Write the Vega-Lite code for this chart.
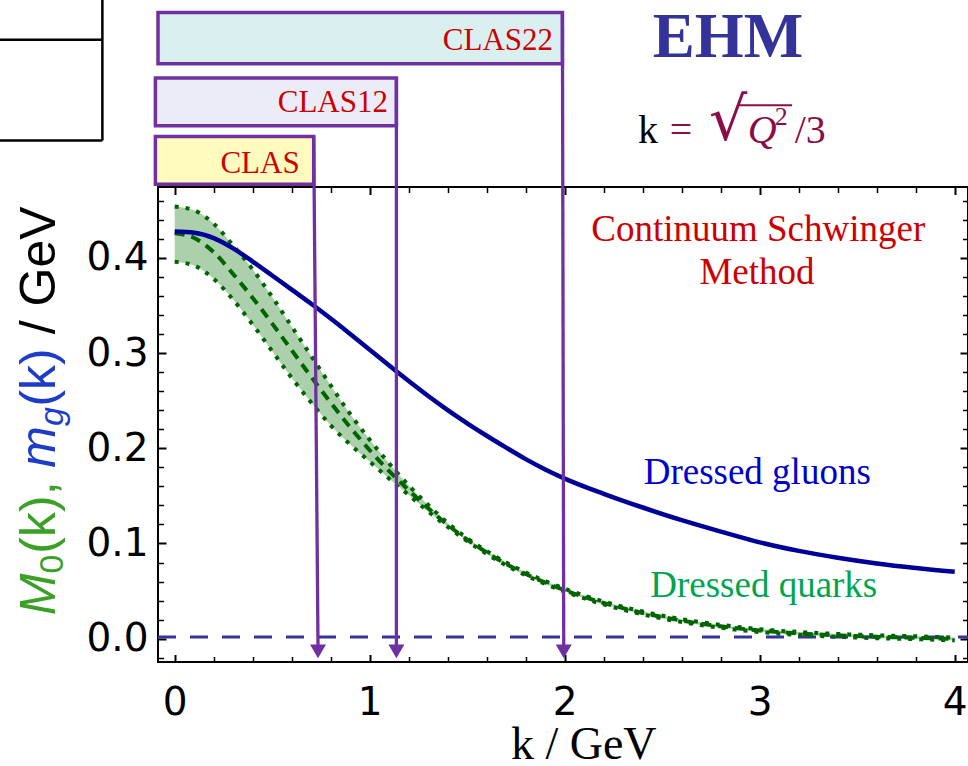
{
  "$schema": "https://vega.github.io/schema/vega-lite/v6.json",
  "width": 810,
  "height": 475,
  "autosize": {"type": "none"},
  "padding": {"left": 158, "top": 187, "right": 0, "bottom": 104},
  "background": "white",
  "config": {"view": {"stroke": "#000000", "strokeWidth": 2}},
  "data": {"values": [{}]},
  "datasets": {
    "gluon": [
      {"k": 0.0, "m": 0.4277}, {"k": 0.1, "m": 0.4264}, {"k": 0.2, "m": 0.4208}, {"k": 0.3, "m": 0.41},
      {"k": 0.4, "m": 0.3962}, {"k": 0.5, "m": 0.3815}, {"k": 0.6, "m": 0.3667}, {"k": 0.7, "m": 0.3518},
      {"k": 0.8, "m": 0.3363}, {"k": 0.9, "m": 0.3201}, {"k": 1.0, "m": 0.3036}, {"k": 1.1, "m": 0.2869},
      {"k": 1.2, "m": 0.2706}, {"k": 1.3, "m": 0.2549}, {"k": 1.4, "m": 0.2401}, {"k": 1.5, "m": 0.2263},
      {"k": 1.6, "m": 0.2132}, {"k": 1.7, "m": 0.2007}, {"k": 1.8, "m": 0.1886}, {"k": 1.9, "m": 0.1778},
      {"k": 2.0, "m": 0.1682}, {"k": 2.2, "m": 0.1522}, {"k": 2.4, "m": 0.1378}, {"k": 2.6, "m": 0.1245},
      {"k": 2.8, "m": 0.1125}, {"k": 3.0, "m": 0.1012}, {"k": 3.2, "m": 0.0922}, {"k": 3.4, "m": 0.085},
      {"k": 3.6, "m": 0.079}, {"k": 3.8, "m": 0.0742}, {"k": 4.0, "m": 0.0702}
    ],
    "quark": [
      {"k": 0.0, "lo": 0.396, "mid": 0.426, "hi": 0.454},
      {"k": 0.1, "lo": 0.392, "mid": 0.421, "hi": 0.45},
      {"k": 0.2, "lo": 0.378, "mid": 0.406, "hi": 0.436},
      {"k": 0.3, "lo": 0.356, "mid": 0.383, "hi": 0.413},
      {"k": 0.4, "lo": 0.33, "mid": 0.358, "hi": 0.388},
      {"k": 0.5, "lo": 0.302, "mid": 0.331, "hi": 0.359},
      {"k": 0.6, "lo": 0.274, "mid": 0.303, "hi": 0.328},
      {"k": 0.7, "lo": 0.248, "mid": 0.275, "hi": 0.297},
      {"k": 0.8, "lo": 0.224, "mid": 0.248, "hi": 0.266},
      {"k": 0.9, "lo": 0.204, "mid": 0.222, "hi": 0.236},
      {"k": 1.0, "lo": 0.186, "mid": 0.198, "hi": 0.209},
      {"k": 1.1, "lo": 0.168, "mid": 0.176, "hi": 0.184},
      {"k": 1.2, "lo": 0.151, "mid": 0.156, "hi": 0.161},
      {"k": 1.3, "lo": 0.1335, "mid": 0.137, "hi": 0.1405},
      {"k": 1.4, "lo": 0.1175, "mid": 0.1195, "hi": 0.1215},
      {"k": 1.5, "lo": 0.1025, "mid": 0.104, "hi": 0.1055},
      {"k": 1.6, "lo": 0.089, "mid": 0.0905, "hi": 0.092},
      {"k": 1.7, "lo": 0.077, "mid": 0.0785, "hi": 0.08},
      {"k": 1.8, "lo": 0.0665, "mid": 0.068, "hi": 0.0695},
      {"k": 1.9, "lo": 0.0575, "mid": 0.059, "hi": 0.0605},
      {"k": 2.0, "lo": 0.0495, "mid": 0.051, "hi": 0.0525},
      {"k": 2.2, "lo": 0.036, "mid": 0.0375, "hi": 0.039},
      {"k": 2.4, "lo": 0.0255, "mid": 0.027, "hi": 0.0285},
      {"k": 2.6, "lo": 0.0175, "mid": 0.019, "hi": 0.0205},
      {"k": 2.8, "lo": 0.0115, "mid": 0.013, "hi": 0.0145},
      {"k": 3.0, "lo": 0.007, "mid": 0.0085, "hi": 0.01},
      {"k": 3.2, "lo": 0.004, "mid": 0.0055, "hi": 0.007},
      {"k": 3.4, "lo": 0.002, "mid": 0.0035, "hi": 0.005},
      {"k": 3.6, "lo": 0.0005, "mid": 0.002, "hi": 0.0035},
      {"k": 3.8, "lo": -0.0005, "mid": 0.001, "hi": 0.0025},
      {"k": 4.0, "lo": -0.0018, "mid": -0.0003, "hi": 0.0012}
    ]
  },
  "resolve": {"axis": {"x": "independent", "y": "independent"}},
  "layer": [
    {
      "data": {"name": "quark"},
      "mark": {"type": "area", "color": "#acd0ac", "interpolate": "monotone"},
      "encoding": {
        "x": {"field": "k", "type": "quantitative", "scale": {"domain": [-0.0856, 4.068], "nice": false, "zero": false},
          "axis": {"orient": "bottom", "values": [0, 1, 2, 3, 4], "format": "d", "ticks": false, "domain": false, "grid": false, "title": null,
            "labelFont": "DejaVu Sans", "labelFontSize": 39, "labelColor": "#000000", "labelPadding": 21, "labelFlush": false, "labelOverlap": false, "labelBound": false}},
        "y": {"field": "lo", "type": "quantitative", "scale": {"domain": [-0.0245, 0.4745], "nice": false, "zero": false},
          "axis": {"orient": "left", "values": [0, 0.1, 0.2, 0.3, 0.4], "format": ".1f", "ticks": false, "domain": false, "grid": false, "title": null,
            "labelFont": "DejaVu Sans", "labelFontSize": 39, "labelColor": "#000000", "labelPadding": 10, "labelFlush": false, "labelOverlap": false, "labelBound": false}},
        "y2": {"field": "hi"}
      }
    },
    {
      "mark": {"type": "rule", "color": "#333399", "strokeWidth": 3, "strokeDash": [18, 14]},
      "encoding": {"x": {"datum": -0.0856, "axis": null}, "x2": {"datum": 4.068}, "y": {"datum": 0.0018, "axis": null}}
    },
    {
      "data": {"name": "quark"},
      "mark": {"type": "line", "color": "#006400", "strokeWidth": 4, "strokeDash": [4, 7], "interpolate": "monotone"},
      "encoding": {
        "x": {"field": "k", "type": "quantitative", "scale": {"domain": [-0.0856, 4.068], "nice": false, "zero": false},
          "axis": {"orient": "bottom", "values": [0, 1, 2, 3, 4], "labels": false, "tickSize": -7.5, "tickWidth": 2, "tickColor": "#000000", "domain": false, "grid": false, "title": null}},
        "y": {"field": "lo", "type": "quantitative", "scale": {"domain": [-0.0245, 0.4745], "nice": false, "zero": false},
          "axis": {"orient": "left", "values": [0, 0.1, 0.2, 0.3, 0.4], "labels": false, "tickSize": -8, "tickWidth": 2, "tickColor": "#000000", "domain": false, "grid": false, "title": null}}
      }
    },
    {
      "data": {"name": "quark"},
      "mark": {"type": "line", "color": "#006400", "strokeWidth": 4, "strokeDash": [4, 7], "interpolate": "monotone"},
      "encoding": {
        "x": {"field": "k", "type": "quantitative", "scale": {"domain": [-0.0856, 4.068], "nice": false, "zero": false},
          "axis": {"orient": "bottom", "values": [0.2, 0.4, 0.6, 0.8, 1.2, 1.4, 1.6, 1.8, 2.2, 2.4, 2.6, 2.8, 3.2, 3.4, 3.6, 3.8], "labels": false, "tickSize": -5.5, "tickWidth": 1.5, "tickColor": "#000000", "domain": false, "grid": false, "title": null}},
        "y": {"field": "hi", "type": "quantitative", "scale": {"domain": [-0.0245, 0.4745], "nice": false, "zero": false},
          "axis": {"orient": "left", "values": [-0.02, 0.02, 0.04, 0.06, 0.08, 0.12, 0.14, 0.16, 0.18, 0.22, 0.24, 0.26, 0.28, 0.32, 0.34, 0.36, 0.38, 0.42, 0.44, 0.46], "labels": false, "tickSize": -5.5, "tickWidth": 1.5, "tickColor": "#000000", "domain": false, "grid": false, "title": null}}
      }
    },
    {
      "data": {"name": "quark"},
      "mark": {"type": "line", "color": "#006400", "strokeWidth": 4, "strokeDash": [10, 7], "interpolate": "monotone"},
      "encoding": {
        "x": {"field": "k", "type": "quantitative", "scale": {"domain": [-0.0856, 4.068], "nice": false, "zero": false},
          "axis": {"orient": "top", "values": [0, 1, 2, 3, 4], "labels": false, "tickSize": -7.5, "tickWidth": 2, "tickColor": "#000000", "domain": false, "grid": false, "title": null}},
        "y": {"field": "mid", "type": "quantitative", "scale": {"domain": [-0.0245, 0.4745], "nice": false, "zero": false},
          "axis": {"orient": "right", "values": [0, 0.1, 0.2, 0.3, 0.4], "labels": false, "tickSize": -8, "tickWidth": 2, "tickColor": "#000000", "domain": false, "grid": false, "title": null}}
      }
    },
    {
      "data": {"name": "gluon"},
      "mark": {"type": "line", "color": "#000099", "strokeWidth": 4.5, "interpolate": "monotone"},
      "encoding": {
        "x": {"field": "k", "type": "quantitative", "scale": {"domain": [-0.0856, 4.068], "nice": false, "zero": false},
          "axis": {"orient": "top", "values": [0.2, 0.4, 0.6, 0.8, 1.2, 1.4, 1.6, 1.8, 2.2, 2.4, 2.6, 2.8, 3.2, 3.4, 3.6, 3.8], "labels": false, "tickSize": -5.5, "tickWidth": 1.5, "tickColor": "#000000", "domain": false, "grid": false, "title": null}},
        "y": {"field": "m", "type": "quantitative", "scale": {"domain": [-0.0245, 0.4745], "nice": false, "zero": false},
          "axis": {"orient": "right", "values": [-0.02, 0.02, 0.04, 0.06, 0.08, 0.12, 0.14, 0.16, 0.18, 0.22, 0.24, 0.26, 0.28, 0.32, 0.34, 0.36, 0.38, 0.42, 0.44, 0.46], "labels": false, "tickSize": -5.5, "tickWidth": 1.5, "tickColor": "#000000", "domain": false, "grid": false, "title": null}}
      }
    },
    {
      "mark": {"type": "rect", "fill": "#daeff0", "stroke": "#7030a0", "strokeWidth": 3.5},
      "encoding": {"x": {"datum": -0.0856, "axis": null}, "x2": {"datum": 1.9882}, "y": {"datum": 0.6579, "axis": null}, "y2": {"datum": 0.604}}
    },
    {
      "mark": {"type": "rect", "fill": "#ececf8", "stroke": "#7030a0", "strokeWidth": 3.5},
      "encoding": {"x": {"datum": -0.099, "axis": null}, "x2": {"datum": 1.1369}, "y": {"datum": 0.589, "axis": null}, "y2": {"datum": 0.5388}}
    },
    {
      "mark": {"type": "rect", "fill": "#fffbbf", "stroke": "#7030a0", "strokeWidth": 3.5},
      "encoding": {"x": {"datum": -0.099, "axis": null}, "x2": {"datum": 0.7128}, "y": {"datum": 0.5275, "axis": null}, "y2": {"datum": 0.4775}}
    },
    {
      "mark": {"type": "rule", "color": "#7030a0", "strokeWidth": 3.3},
      "encoding": {"x": {"datum": 0.7128, "axis": null}, "x2": {"datum": 0.7349}, "y": {"datum": 0.5275, "axis": null}, "y2": {"datum": -0.0069}}
    },
    {
      "mark": {"type": "rule", "color": "#7030a0", "strokeWidth": 3.3},
      "encoding": {"x": {"datum": 1.1369, "axis": null}, "x2": {"datum": 1.1369}, "y": {"datum": 0.589, "axis": null}, "y2": {"datum": -0.0069}}
    },
    {
      "mark": {"type": "rule", "color": "#7030a0", "strokeWidth": 3.3},
      "encoding": {"x": {"datum": 1.9882, "axis": null}, "x2": {"datum": 1.9949}, "y": {"datum": 0.6579, "axis": null}, "y2": {"datum": -0.0069}}
    },
    {
      "mark": {"type": "point", "shape": "triangle-down", "filled": true, "color": "#7030a0", "opacity": 1, "size": 256},
      "encoding": {"x": {"datum": 0.7349, "axis": null}, "y": {"datum": -0.0133, "axis": null}}
    },
    {
      "mark": {"type": "point", "shape": "triangle-down", "filled": true, "color": "#7030a0", "opacity": 1, "size": 256},
      "encoding": {"x": {"datum": 1.1369, "axis": null}, "y": {"datum": -0.0133, "axis": null}}
    },
    {
      "mark": {"type": "point", "shape": "triangle-down", "filled": true, "color": "#7030a0", "opacity": 1, "size": 256},
      "encoding": {"x": {"datum": 1.9949, "axis": null}, "y": {"datum": -0.0133, "axis": null}}
    },
    {
      "mark": {"type": "text", "text": "CLAS", "font": "Liberation Serif", "fontSize": 31, "color": "#cc0000", "align": "right", "baseline": "alphabetic"},
      "encoding": {"x": {"datum": 0.641, "axis": null}, "y": {"datum": 0.4891, "axis": null}}
    },
    {
      "mark": {"type": "text", "text": "CLAS12", "font": "Liberation Serif", "fontSize": 31, "color": "#cc0000", "align": "right", "baseline": "alphabetic"},
      "encoding": {"x": {"datum": 1.0938, "axis": null}, "y": {"datum": 0.5538, "axis": null}}
    },
    {
      "mark": {"type": "text", "text": "CLAS22", "font": "Liberation Serif", "fontSize": 31, "color": "#cc0000", "align": "right", "baseline": "alphabetic"},
      "encoding": {"x": {"datum": 1.94, "axis": null}, "y": {"datum": 0.6187, "axis": null}}
    },
    {
      "mark": {"type": "text", "text": "EHM", "font": "Liberation Serif", "fontSize": 63, "fontWeight": "bold", "color": "#333399", "align": "center", "baseline": "alphabetic"},
      "encoding": {"x": {"datum": 2.8374, "axis": null}, "y": {"datum": 0.611, "axis": null}}
    },
    {
      "mark": {"type": "text", "text": "k", "font": "Liberation Serif", "fontSize": 40, "color": "#000000", "align": "left", "baseline": "alphabetic"},
      "encoding": {"x": {"datum": 2.3759, "axis": null}, "y": {"datum": 0.5212, "axis": null}}
    },
    {
      "mark": {"type": "text", "text": "=", "font": "Liberation Serif", "fontSize": 40, "color": "#8a0f48", "align": "left", "baseline": "alphabetic"},
      "encoding": {"x": {"datum": 2.5385, "axis": null}, "y": {"datum": 0.5212, "axis": null}}
    },
    {
      "mark": {"type": "text", "text": "√", "font": "DejaVu Serif", "fontSize": 60, "color": "#8a0f48", "align": "left", "baseline": "alphabetic"},
      "encoding": {"x": {"datum": 2.74, "axis": null}, "y": {"datum": 0.5239, "axis": null}}
    },
    {
      "mark": {"type": "rule", "color": "#8a0f48", "strokeWidth": 2},
      "encoding": {"x": {"datum": 2.89, "axis": null}, "x2": {"datum": 3.1656}, "y": {"datum": 0.5605, "axis": null}}
    },
    {
      "mark": {"type": "text", "text": "Q", "font": "Liberation Serif", "fontSize": 40, "fontStyle": "italic", "color": "#8a0f48", "align": "left", "baseline": "alphabetic"},
      "encoding": {"x": {"datum": 2.9385, "axis": null}, "y": {"datum": 0.5212, "axis": null}}
    },
    {
      "mark": {"type": "text", "text": "2", "font": "Liberation Serif", "fontSize": 26, "color": "#8a0f48", "align": "left", "baseline": "alphabetic"},
      "encoding": {"x": {"datum": 3.0769, "axis": null}, "y": {"datum": 0.5399, "axis": null}}
    },
    {
      "mark": {"type": "text", "text": "/3", "font": "Liberation Serif", "fontSize": 40, "color": "#8a0f48", "align": "left", "baseline": "alphabetic"},
      "encoding": {"x": {"datum": 3.1795, "axis": null}, "y": {"datum": 0.5212, "axis": null}}
    },
    {
      "mark": {"type": "text", "text": "Continuum Schwinger", "font": "Liberation Serif", "fontSize": 37, "color": "#cc0000", "align": "center", "baseline": "alphabetic"},
      "encoding": {"x": {"datum": 2.9923, "axis": null}, "y": {"datum": 0.4179, "axis": null}}
    },
    {
      "mark": {"type": "text", "text": "Method", "font": "Liberation Serif", "fontSize": 37, "color": "#cc0000", "align": "center", "baseline": "alphabetic"},
      "encoding": {"x": {"datum": 2.9859, "axis": null}, "y": {"datum": 0.3723, "axis": null}}
    },
    {
      "mark": {"type": "text", "text": "Dressed gluons", "font": "Liberation Serif", "fontSize": 37, "color": "#0000cc", "align": "center", "baseline": "alphabetic"},
      "encoding": {"x": {"datum": 2.9872, "axis": null}, "y": {"datum": 0.1624, "axis": null}}
    },
    {
      "mark": {"type": "text", "text": "Dressed quarks", "font": "Liberation Serif", "fontSize": 37, "color": "#00a550", "align": "center", "baseline": "alphabetic"},
      "encoding": {"x": {"datum": 3.0205, "axis": null}, "y": {"datum": 0.0438, "axis": null}}
    },
    {
      "mark": {"type": "text", "text": "k / GeV", "font": "Liberation Serif", "fontSize": 46, "color": "#000000", "align": "center", "baseline": "alphabetic"},
      "encoding": {"x": {"datum": 2.0974, "axis": null}, "y": {"datum": -0.1269, "axis": null}}
    },
    {
      "mark": {"type": "text", "text": "M", "font": "Liberation Sans", "fontSize": 50, "fontStyle": "italic", "color": "#3ca028", "align": "left", "baseline": "alphabetic", "angle": 270},
      "encoding": {"x": {"datum": -0.6154, "axis": null}, "y": {"datum": 0.0246, "axis": null}}
    },
    {
      "mark": {"type": "text", "text": "0", "font": "Liberation Sans", "fontSize": 34, "color": "#3ca028", "align": "left", "baseline": "alphabetic", "angle": 270},
      "encoding": {"x": {"datum": -0.5744, "axis": null}, "y": {"datum": 0.0686, "axis": null}}
    },
    {
      "mark": {"type": "text", "text": "(k),", "font": "Liberation Sans", "fontSize": 50, "color": "#3ca028", "align": "left", "baseline": "alphabetic", "angle": 270},
      "encoding": {"x": {"datum": -0.6154, "axis": null}, "y": {"datum": 0.0893, "axis": null}}
    },
    {
      "mark": {"type": "text", "text": "m", "font": "Liberation Sans", "fontSize": 50, "fontStyle": "italic", "color": "#1e3cc8", "align": "left", "baseline": "alphabetic", "angle": 270},
      "encoding": {"x": {"datum": -0.6154, "axis": null}, "y": {"datum": 0.1795, "axis": null}}
    },
    {
      "mark": {"type": "text", "text": "g", "font": "Liberation Sans", "fontSize": 34, "fontStyle": "italic", "color": "#1e3cc8", "align": "left", "baseline": "alphabetic", "angle": 270},
      "encoding": {"x": {"datum": -0.5744, "axis": null}, "y": {"datum": 0.2233, "axis": null}}
    },
    {
      "mark": {"type": "text", "text": "(k)", "font": "Liberation Sans", "fontSize": 50, "color": "#1e3cc8", "align": "left", "baseline": "alphabetic", "angle": 270},
      "encoding": {"x": {"datum": -0.6154, "axis": null}, "y": {"datum": 0.2438, "axis": null}}
    },
    {
      "mark": {"type": "text", "text": "/ GeV", "font": "Liberation Sans", "fontSize": 50, "color": "#000000", "align": "left", "baseline": "alphabetic", "angle": 270},
      "encoding": {"x": {"datum": -0.6154, "axis": null}, "y": {"datum": 0.3198, "axis": null}}
    },
    {
      "mark": {"type": "rule", "color": "#000000", "strokeWidth": 2.5},
      "encoding": {"x": {"datum": -0.95, "axis": null}, "x2": {"datum": -0.3708}, "y": {"datum": 0.6292, "axis": null}}
    },
    {
      "mark": {"type": "rule", "color": "#000000", "strokeWidth": 2.5},
      "encoding": {"x": {"datum": -0.95, "axis": null}, "x2": {"datum": -0.3708}, "y": {"datum": 0.5233, "axis": null}}
    },
    {
      "mark": {"type": "rule", "color": "#000000", "strokeWidth": 2.5},
      "encoding": {"x": {"datum": -0.3708, "axis": null}, "y": {"datum": 0.69, "axis": null}, "y2": {"datum": 0.5233}}
    }
  ]
}
